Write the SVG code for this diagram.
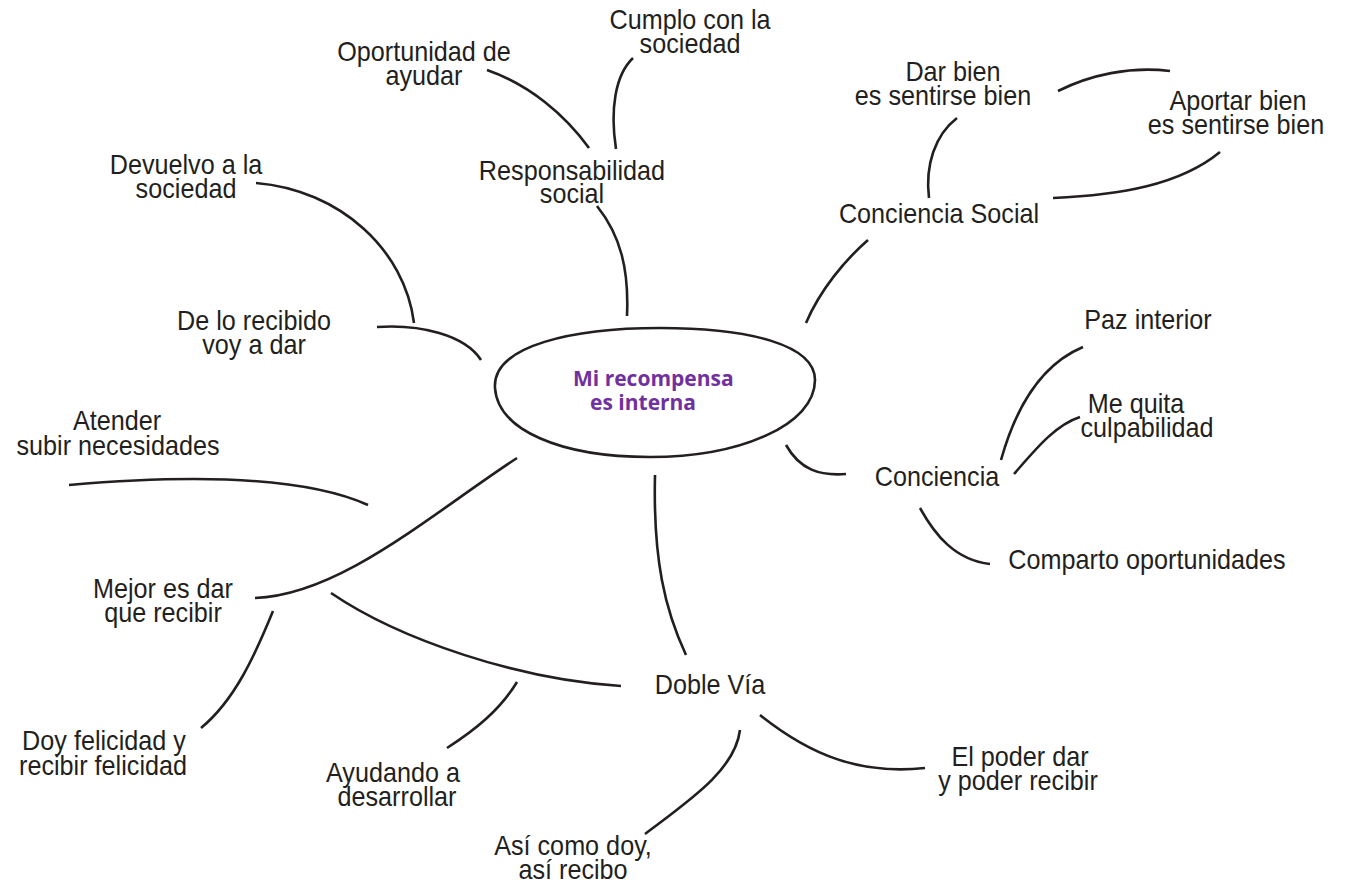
<svg xmlns="http://www.w3.org/2000/svg" width="1354" height="886" viewBox="0 0 1354 886">
<style>
.t{font-family:"Liberation Sans",Arial,sans-serif;font-size:28px;fill:#231f20;text-anchor:middle}
.c{fill:none;stroke:#231f20;stroke-width:2.6;stroke-linecap:butt}
.hub{font-family:"Open Sans","Liberation Sans",sans-serif;font-weight:bold;font-size:21px;fill:#7030a0}
</style>
<rect width="1354" height="886" fill="#ffffff"/>
<g id="connectors">
<path class="c" d="M627,316 C629,270 621,236 597,206"/>
<path class="c" d="M487,70 C530,85 565,115 589,148"/>
<path class="c" d="M633,58 C615,75 610,110 616,149"/>
<path class="c" d="M256,183 C340,190 405,250 414,323"/>
<path class="c" d="M377,327 C420,324 465,335 481,360"/>
<path class="c" d="M69,485 C150,478 290,470 368,505"/>
<path class="c" d="M517,458 C430,515 340,595 255,598"/>
<path class="c" d="M331,593 C400,640 520,680 621,686"/>
<path class="c" d="M273,611 C255,655 235,700 201,728"/>
<path class="c" d="M517,682 C500,710 475,730 447,748"/>
<path class="c" d="M655,475 C653,560 665,610 686,655"/>
<path class="c" d="M740,730 C735,770 690,800 645,834"/>
<path class="c" d="M760,715 C810,755 860,775 925,768"/>
<path class="c" d="M806,323 C820,290 845,260 868,240"/>
<path class="c" d="M957,118 C935,135 925,165 929,198"/>
<path class="c" d="M1058,91 C1090,75 1130,66 1170,71"/>
<path class="c" d="M1220,152 C1180,185 1120,195 1053,198"/>
<path class="c" d="M786,445 C800,470 820,476 846,474"/>
<path class="c" d="M1001,460 C1015,410 1040,365 1083,347"/>
<path class="c" d="M1014,474 C1035,450 1055,425 1080,417"/>
<path class="c" d="M920,508 C935,535 955,560 990,564"/>
</g>
<g id="hub">
<path class="c" d="M495,388 C492,345 575,328 660,328 C750,328 815,345 815,380 C815,425 740,457 650,457 C560,457 498,430 495,388 Z"/>
<text class="hub" x="573" y="386">Mi recompensa</text>
<text class="hub" x="590" y="410">es interna</text>
</g>
<g id="n-responsabilidad"><text class="t" transform="translate(572,180) scale(0.9,1)">Responsabilidad</text><text class="t" transform="translate(572,203) scale(0.9,1)">social</text></g>
<g id="n-cumplo"><text class="t" transform="translate(690,29) scale(0.9,1)">Cumplo con la</text><text class="t" transform="translate(690,53) scale(0.9,1)">sociedad</text></g>
<g id="n-oportunidad"><text class="t" transform="translate(424,61) scale(0.9,1)">Oportunidad de</text><text class="t" transform="translate(424,85) scale(0.9,1)">ayudar</text></g>
<g id="n-devuelvo"><text class="t" transform="translate(186,174) scale(0.9,1)">Devuelvo a la</text><text class="t" transform="translate(186,198) scale(0.9,1)">sociedad</text></g>
<g id="n-delo"><text class="t" transform="translate(254,330) scale(0.9,1)">De lo recibido</text><text class="t" transform="translate(254,354) scale(0.9,1)">voy a dar</text></g>
<g id="n-atender"><text class="t" transform="translate(117,430) scale(0.9,1)">Atender</text><text class="t" transform="translate(118,455) scale(0.9,1)">subir necesidades</text></g>
<g id="n-mejor"><text class="t" transform="translate(163,598) scale(0.9,1)">Mejor es dar</text><text class="t" transform="translate(163,622) scale(0.9,1)">que recibir</text></g>
<g id="n-doy"><text class="t" transform="translate(104,750) scale(0.9,1)">Doy felicidad y</text><text class="t" transform="translate(103,775) scale(0.9,1)">recibir felicidad</text></g>
<g id="n-ayudando"><text class="t" transform="translate(393,782) scale(0.9,1)">Ayudando a</text><text class="t" transform="translate(397,806) scale(0.9,1)">desarrollar</text></g>
<g id="n-asi"><text class="t" transform="translate(573,855) scale(0.9,1)">Así como doy,</text><text class="t" transform="translate(573,879) scale(0.9,1)">así recibo</text></g>
<g id="n-doble"><text class="t" transform="translate(710,694) scale(0.9,1)">Doble Vía</text></g>
<g id="n-elpoder"><text class="t" transform="translate(1020,766) scale(0.9,1)">El poder dar</text><text class="t" transform="translate(1018,790) scale(0.9,1)">y poder recibir</text></g>
<g id="n-conciencia"><text class="t" transform="translate(937,486) scale(0.9,1)">Conciencia</text></g>
<g id="n-comparto"><text class="t" transform="translate(1147,569) scale(0.9,1)">Comparto oportunidades</text></g>
<g id="n-mequita"><text class="t" transform="translate(1136,413) scale(0.9,1)">Me quita</text><text class="t" transform="translate(1147,437) scale(0.9,1)">culpabilidad</text></g>
<g id="n-paz"><text class="t" transform="translate(1148,329) scale(0.9,1)">Paz interior</text></g>
<g id="n-csocial"><text class="t" transform="translate(939,223) scale(0.9,1)">Conciencia Social</text></g>
<g id="n-darbien"><text class="t" transform="translate(953,81) scale(0.9,1)">Dar bien</text><text class="t" transform="translate(943,105) scale(0.9,1)">es sentirse bien</text></g>
<g id="n-aportar"><text class="t" transform="translate(1238,110) scale(0.9,1)">Aportar bien</text><text class="t" transform="translate(1236,134) scale(0.9,1)">es sentirse bien</text></g>
</svg>
